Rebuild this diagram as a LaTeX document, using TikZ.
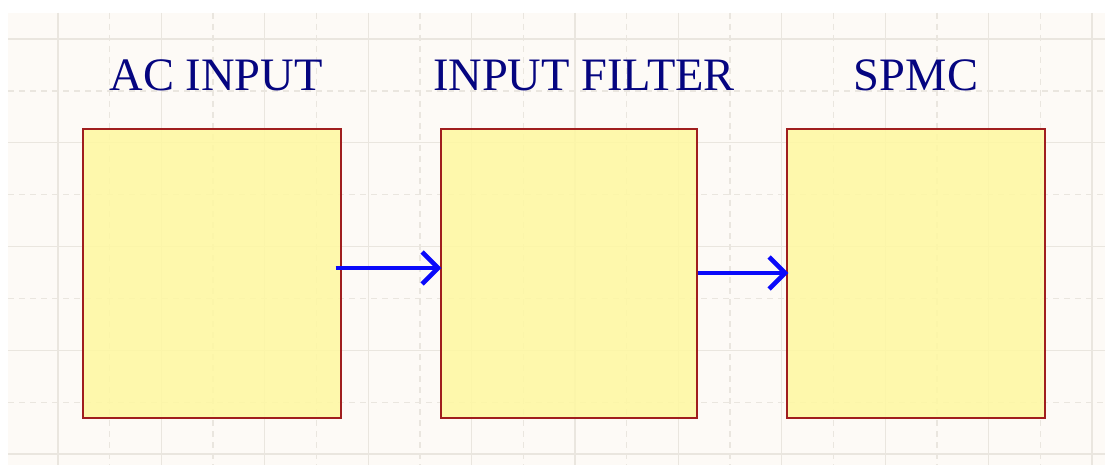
\documentclass[tikz,border=0pt]{standalone}
\usepackage{fontspec}
\setmainfont{Liberation Serif}
\usetikzlibrary{arrows.meta}
\definecolor{bgc}{RGB}{253,250,246}
\definecolor{gridc}{RGB}{234,230,223}
\definecolor{boxfill}{RGB}{255,248,160}
\definecolor{boxline}{RGB}{160,30,30}
\definecolor{navy}{RGB}{5,5,128}
\definecolor{arrowc}{RGB}{10,10,250}
\tikzset{
  blockbox/.style={draw=boxline, line width=1.4pt, fill=boxfill, fill opacity=0.85, draw opacity=1, minimum height=289pt, inner sep=0pt},
  title/.style={font=\fontsize{46.5}{50}\selectfont, text=navy, anchor=base, inner sep=0pt},
  solidgrid/.style={draw=gridc, line width=1.3pt},
  dashgrid/.style={draw=gridc, line width=1.3pt, dash pattern=on 6pt off 5pt},
  flow/.style={draw=arrowc, line width=4.6pt, -{Straight Barb[length=16pt, width=32pt, line width=4.6pt]}}
}
\begin{document}
\begin{tikzpicture}[x=1pt, y=-1pt]
\useasboundingbox (0,0) rectangle (1105,465);
\fill[white] (0,0) rectangle (1105,465);
\fill[bgc] (8,13) rectangle (1105,465);
% grid
\foreach \k in {0,...,10} {
  \draw[solidgrid] ({58+103.4*\k},13) -- ({58+103.4*\k},465);
  \draw[dashgrid] ({109.7+103.4*\k},13) -- ({109.7+103.4*\k},465);
}
\foreach \k in {0,...,4} {
  \draw[solidgrid] (8,{39+103.75*\k}) -- (1105,{39+103.75*\k});
}
\foreach \k in {0,...,3} {
  \draw[dashgrid] (8,{91+103.75*\k}) -- (1105,{91+103.75*\k});
}
% boxes
\node[blockbox, minimum width=258pt] (b1) at (212,273.5) {};
\node[blockbox, minimum width=256pt] (b2) at (569,273.5) {};
\node[blockbox, minimum width=258pt] (b3) at (916,273.5) {};
% titles
\node[title] (t1) at (216,91) {AC INPUT};
\node[title] (t2) at (584,91) {INPUT FILTER};
\node[title] (t3) at (916,91) {SPMC};
% arrows
\draw[flow] ([xshift=-6pt, yshift=5.5pt]b1.east) -- ([xshift=1pt, yshift=5.5pt]b2.west);
\draw[flow] ([yshift=0.5pt]b2.east) -- ([xshift=2pt, yshift=0.5pt]b3.west);
\end{tikzpicture}
\end{document}
